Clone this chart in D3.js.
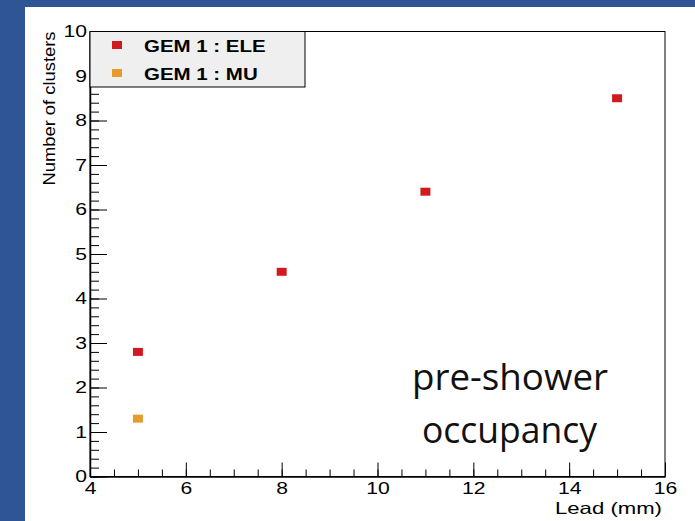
<!DOCTYPE html>
<html>
<head>
<meta charset="utf-8">
<script src="https://cdn.jsdelivr.net/npm/d3@7"></script>
<style>
  body { margin: 0; background: #2f5597; }
  svg { display: block; }
</style>
</head>
<body>
<script>
// data
var eleLead = [5, 8, 11, 15];
var eleClusters = [2.8, 4.6, 6.4, 8.5];
var muLead = [5];
var muClusters = [1.3];
var seriesNames = ["GEM 1 : ELE", "GEM 1 : MU"];
var seriesColors = ["#d11a1f", "#e49c2c"];
var xTicks = [4, 6, 8, 10, 12, 14, 16];
var yTicks = [0, 1, 2, 3, 4, 5, 6, 7, 8, 9, 10];
var noteLines = ["pre-shower", "occupancy"];

var W = 695, H = 521;
var stretch = 1.28; // the picture is wider than ROOT drew it
var rootFont = "'Liberation Sans', Arial, Helvetica, sans-serif";

var svg = d3.select("body").append("svg")
    .attr("width", W)
    .attr("height", H);

// white slide area
svg.append("rect")
    .attr("x", 25).attr("y", 7)
    .attr("width", W - 25).attr("height", H - 7)
    .attr("fill", "#fff");

var x = d3.scaleLinear().domain([4, 16]).range([90, 665]);
var y = d3.scaleLinear().domain([0, 10]).range([476.5, 31.5]);

// frame
svg.append("rect")
    .attr("x", x(4)).attr("y", y(10))
    .attr("width", x(16) - x(4)).attr("height", y(0) - y(10))
    .attr("fill", "none")
    .attr("stroke", "#000")
    .attr("stroke-width", 1);

// minor ticks (inward)
svg.append("g")
    .attr("transform", "translate(" + x(4) + ",0)")
    .call(d3.axisLeft(y).tickValues(d3.range(0, 10.001, 0.2)).tickSize(-9).tickFormat(""))
    .call(function(g) { g.select(".domain").remove(); });
svg.append("g")
    .attr("transform", "translate(0," + y(0) + ")")
    .call(d3.axisBottom(x).tickValues(d3.range(4, 16.001, 0.5)).tickSize(-7).tickFormat(""))
    .call(function(g) { g.select(".domain").remove(); });

// major ticks with labels
var yAxis = svg.append("g")
    .attr("transform", "translate(" + x(4) + ",0)")
    .call(d3.axisLeft(y).tickValues(yTicks).tickSize(-17).tickPadding(3).tickSizeOuter(0));
var xAxis = svg.append("g")
    .attr("transform", "translate(0," + y(0) + ")")
    .call(d3.axisBottom(x).tickValues(xTicks).tickSize(-14).tickPadding(6).tickSizeOuter(0));

[yAxis, xAxis].forEach(function(g) {
    g.selectAll("text")
        .style("font-size", "16.5px")
        .style("font-family", rootFont)
        .attr("fill", "#000");
    g.select(".domain").attr("stroke-width", 1.5);
});
yAxis.selectAll("text").attr("transform", "scale(" + stretch + ",1)").attr("x", -3 / stretch);
xAxis.selectAll("text").attr("transform", "scale(" + stretch + ",1)");

// axis titles
svg.append("text")
    .attr("transform", "translate(55," + y(10) + ") rotate(-90)")
    .attr("text-anchor", "end")
    .style("font-family", rootFont)
    .style("font-size", "16.5px")
    .attr("textLength", 154)
    .attr("lengthAdjust", "spacingAndGlyphs")
    .text("Number of clusters");

svg.append("text")
    .attr("x", 555).attr("y", 514)
    .style("font-family", rootFont)
    .style("font-size", "16.5px")
    .attr("textLength", 107)
    .attr("lengthAdjust", "spacingAndGlyphs")
    .text("Lead (mm)");

// points
function drawPoints(xs, ys, color) {
    svg.append("g").selectAll("rect")
        .data(xs.map(function(d, i) { return [d, ys[i]]; }))
        .enter().append("rect")
        .attr("x", function(d) { return x(d[0]) - 5; })
        .attr("y", function(d) { return y(d[1]) - 4; })
        .attr("width", 10)
        .attr("height", 8)
        .attr("fill", color);
}
drawPoints(eleLead, eleClusters, seriesColors[0]);
drawPoints(muLead, muClusters, seriesColors[1]);

// legend
var legend = svg.append("g");
legend.append("rect")
    .attr("x", 90).attr("y", 31.5)
    .attr("width", 215).attr("height", 55.5)
    .attr("fill", "#efefef")
    .attr("stroke", "#000")
    .attr("stroke-width", 1);
var rows = legend.selectAll("g.row")
    .data(seriesNames)
    .enter().append("g")
    .attr("class", "row")
    .attr("transform", function(d, i) { return "translate(0," + (45 + i * 28) + ")"; });
rows.append("rect")
    .attr("x", 112).attr("y", -4)
    .attr("width", 10).attr("height", 8)
    .attr("fill", function(d, i) { return seriesColors[i]; });
rows.append("text")
    .attr("transform", "translate(144,6.5) scale(" + stretch + ",1)")
    .style("font-family", rootFont)
    .style("font-size", "16px")
    .style("font-weight", "bold")
    .text(function(d) { return d; });

// slide note
svg.append("g").selectAll("text")
    .data(noteLines)
    .enter().append("text")
    .attr("x", function(d, i) { return i === 0 ? 412 : 422; })
    .attr("y", function(d, i) { return 389.5 + i * 53; })
    .style("font-family", "'Open Sans', 'Noto Sans', sans-serif")
    .style("font-size", "36px")
    .attr("textLength", function(d, i) { return i === 0 ? 196 : 175; })
    .attr("lengthAdjust", "spacingAndGlyphs")
    .attr("fill", "#111")
    .text(function(d) { return d; });
</script>
</body>
</html>
